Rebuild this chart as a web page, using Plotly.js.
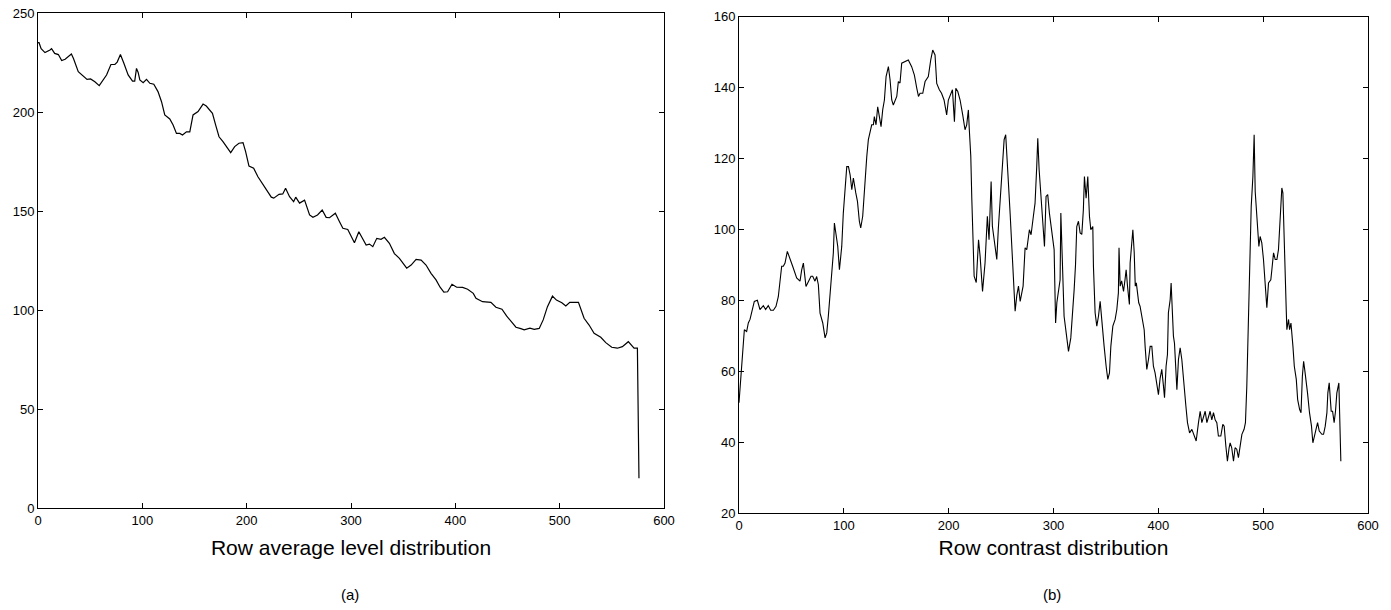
<!DOCTYPE html>
<html>
<head>
<meta charset="utf-8">
<script src="https://cdn.plot.ly/plotly-3.0.1.min.js"></script>
<style>html,body{margin:0;padding:0;background:#fff;}#chart{width:1391px;height:610px;}</style>
</head>
<body>
<div id="chart"></div>
<script>
// Row average level distribution (a)
var avgRow = [0,1,3,6.7,11.5,13,16,19.5,22.7,26,32,34,38.6,43.4,47,50.4,54.5,58.7,62.5,65.7,69.9,73.7,75.9,79,82.3,86.4,90.6,92.7,94.4,96,97.6,100.8,104,107.2,111,115,118.4,121.5,126.3,129.5,132.7,135.9,138.5,142.3,145.5,148.6,153.4,158.2,161.3,167.2,170.3,173.5,177.3,180.5,184.7,188.5,192.6,196.5,199,202.2,206.7,210.8,215,218.8,223.6,226,231,234.6,237.3,241.1,245,247,250.7,255.5,260.3,263.5,267.9,272.4,276.2,279.4,285,289,292.2,296.9,303.3,307.5,311.3,314.5,317.7,320.9,324.7,328.8,332,336.8,341.6,346.4,353.4,357.6,362.4,367.2,371.9,376.7,381.5,385.4,389,392.6,396.8,401.3,407,411.8,417.2,419.8,426.1,434.1,438.9,444.7,449.1,453.3,458.1,462.8,466,471.5,475.6,480.4,484.2,488.3,493.1,496.9,502.1,505.9,509.7,518,523.4,528.2,533,539.4,544.2,549.9,555.3,560.1,565.8,571.3,574.5,576];
var avgLevel = [235,235,232,230,231.3,232,229.6,229,226,226.6,229.3,227,220.4,218,216.5,216.7,215.3,213.3,216.2,218.7,224,224,225.2,229,224.6,218.7,215.6,215.6,222,220,216.2,214.8,216.5,214.5,214,210.3,205.2,198.5,196.5,193.4,189.2,189.2,188.4,190,190,198.5,200.2,204,203,199.3,193.4,187.5,185,182.5,179.5,182.5,184.2,184.5,180,172.7,171.6,167.3,164,160.6,157,156.5,158.4,158.6,161.5,157.2,154.7,157,154,155.5,148,146.8,148,150.5,146.8,146.6,148.9,144.6,141.3,140.7,134,139.5,136.2,132.8,133.3,132,136.2,135.7,136.7,133.7,128.5,126.1,121.1,122.7,125.6,125.2,122.7,118.5,115.2,111.5,109,109.2,113,111.5,111.4,110.5,108.4,105.9,104.2,103.9,101.4,100.4,97,94.1,91.3,90.6,90,90.8,90.2,90.7,95,101.7,107,105,103.7,102,103.9,103.9,95.8,92.4,88.2,86.2,83.5,81.2,80.7,81.5,84,80.7,80.7,15];

// Row contrast distribution (b)
var conRow = [0,1.6,2.5,3.5,5.1,7.3,8.9,10.5,12.1,14.6,17.5,20,23.2,25.4,27.9,30.2,32.8,35.3,37.5,40.7,42.3,43.9,46.1,48.7,51.2,55,58.2,59.8,61.4,63.9,66.1,68.7,70.3,72.5,74.1,75.7,77.3,79.9,82.1,83.7,85.2,86.8,88.4,90,91,92.6,94.2,95.8,98,99.5,101.2,102.8,104.4,106,107.6,109.1,111.4,113,114.8,116.1,118,119.3,120.9,121.9,123.4,125,126.6,128.2,129.1,130.7,132.3,133.9,135.5,137.1,138.7,140.3,142.5,144.1,145.7,147.2,150.5,152,153.6,155.2,158.4,161.5,164.7,167.3,169.6,171.2,172.7,175.3,177.5,180.6,182.9,184.8,187,188.6,191.1,193.2,195.6,198.1,199.7,202,203.6,205.5,206.8,208.7,210.9,213.4,215.6,217.2,218.8,219.7,221.1,222.1,223.1,224.3,226.3,227.5,228.5,230,231.6,232.3,234.7,236.9,238.5,240.5,241.7,243.3,245.9,247.4,249,250.7,252.9,254.4,255.4,257,258.6,260.2,261.7,262.5,263.4,265,266.6,268.2,269.8,271,272.9,274.5,277,278.6,280.8,282.4,284,285,286.3,287.9,289.8,291.4,292.9,294.5,296.1,298.4,300.6,301.5,302,303.2,304.7,306.3,307,308.9,310.1,312.7,314.3,316.5,318.4,319.7,321,322.2,323.8,325.4,327,328.5,329.5,331.1,332.7,334.3,335.6,337.5,338.1,339.1,339.7,341.3,342.9,344.5,346.1,348.3,350.2,351.8,353.4,354.7,356.6,358.8,360.4,361.9,362.5,363.6,365,366.8,368.3,369.3,370.6,372.4,373.1,374.7,375.7,377,378,379,381.3,382.6,384.4,385.8,386.5,387.4,389,390.6,392.2,393.8,395.3,396.9,399.2,400.1,401.7,403.3,404.9,405.9,407.4,408.7,409.6,411.3,412.2,413.5,414.4,415.4,416.7,417.7,419.2,420.8,422.4,424,426.3,427.8,429.8,432,433.6,436.1,438.3,439.9,441.5,443.1,444.7,446.3,447.9,449.4,451,452.6,454.2,455.8,457.3,459.6,461.5,462.8,464.4,465.9,467.5,468.5,470,471.7,473.2,474.8,476.4,478.1,479.7,481.8,483.1,484.4,485.4,486,486.9,487.6,488.6,490.2,491.4,492.4,493.3,494.6,495.9,497.1,498.7,500.3,501.9,503.5,505.1,507.3,508.3,509.9,511.5,513.1,514.6,516.2,517.8,518.8,520,521.3,522,522.6,524.2,525.2,526.5,528.4,529.7,531.6,532.9,534.8,536.1,537.4,538.6,539.6,540.9,542.3,544.2,546.1,547.4,548.7,550.3,551.9,553.5,556,557.6,559.2,560.8,561.7,563,564,564.9,566.2,567.7,569,570.3,572.2,572.8,573.5,574.1];
var contrast = [51.1,57.7,60.5,64.2,71.7,71.2,73.6,74.6,76.9,79.7,80,77.4,78.5,77.4,78.5,77.2,77.2,78.3,81,89.6,89.6,90.5,93.8,91.9,89.6,86.3,85.4,88.6,90.5,83.9,85.4,86.8,86.8,85.4,86.7,84.4,76.4,73.6,69.4,70.8,75.5,82.1,86.8,93.4,101.8,99,95.2,88.6,95.2,104.6,111.2,117.7,117.7,115.4,111.2,114.5,110.3,107.9,102.3,100.4,103.7,110.3,117.7,120.6,125.3,127.2,129.5,129.5,131.8,129.5,134.6,131.8,129,133.8,136.5,143.1,145.9,142.2,136.5,135.1,137.5,141.7,141.3,146.9,147.3,147.8,145.9,143.5,139.8,137.5,138.4,138.4,141.7,143.1,147.8,150.6,149.2,141.2,139.4,138.4,136.5,132.3,136.5,138.4,139.4,130.4,139.8,138.9,136.5,132.3,128.1,129.5,133.7,128.1,120.6,108.4,94.3,86.8,85,92,97.1,92.4,82.5,82.5,90.5,103.7,97.1,113.5,100.9,97.1,91.5,100.4,107.4,114.9,125.3,126.7,119.6,113.1,104.6,94.3,84.9,81.1,76.9,81.4,84,79.7,82.1,84,94.8,94.3,99.9,98.5,103.7,107.4,117.7,125.7,116.8,109.3,100.8,95.2,109.3,109.8,104.6,99.9,94.3,81,73.6,79.3,83,85.8,104.6,85.8,75.5,69.4,65.6,69.4,76.5,83,90,100.8,102.3,99,98.6,105.6,114.9,108.8,114.9,103.7,99.9,100.8,89.6,81.1,76.5,72.7,75.5,79.7,73.6,67,61.4,57.7,59.5,67,72.7,74.6,77.4,82.1,94.8,84,85.5,82.5,86,88.6,84,78.8,90.5,95.2,99.9,93.4,84,84.9,79.3,78.3,75.5,73.6,71.7,67,60.5,63.3,67,67,61.4,59.5,55.8,53.4,58,60.5,55.8,52.5,61.4,64.7,76.5,80.2,84.9,74.6,69.9,67.9,61.4,54.8,63.3,66.6,63.3,56.7,50.1,45.5,42.6,43.6,42.2,40.3,45.5,48.7,45.5,47.3,48.7,45.5,46.9,48.7,46.3,48.3,46.3,45.5,41.7,41.7,45,44.5,38.9,34.6,38.4,39.8,38.4,34.6,38.4,38,35.6,38.9,42.2,43.6,45.5,55.8,67,76.5,85.8,95.2,106.5,114.9,126.7,110.7,106.5,99.9,95.2,98,96.2,91.5,84.9,77.9,84.9,85.8,88.6,93.4,91.5,91.5,94.3,102.7,111.7,110.3,95.2,87.7,77.4,71.7,74.6,71.7,73.6,67,61.4,57.7,52,49.2,48.3,58.6,62.8,60.5,57.7,53.9,48.3,44.5,39.8,41.7,43.1,45.5,43.1,42.2,42.2,44.5,48.3,53.9,56.7,53,48.7,48.7,45.5,48.7,53.9,56.7,47.3,40.8,34.6];

var xTicks = [0,100,200,300,400,500,600];
var yTicksA = [0,50,100,150,200,250];
var yTicksB = [20,40,60,80,100,120,140,160];
var xTitleA = 'Row average level distribution';
var xTitleB = 'Row contrast distribution';
var panelLabels = ['(a)', '(b)'];

var font = {family: '"Liberation Sans", Arial, Helvetica, sans-serif', color: '#000', size: 13};

var traces = [
  {x: avgRow, y: avgLevel, type: 'scatter', mode: 'lines', line: {color: '#000', width: 1.2}, xaxis: 'x', yaxis: 'y', hoverinfo: 'skip'},
  {x: conRow, y: contrast, type: 'scatter', mode: 'lines', line: {color: '#000', width: 1.1}, xaxis: 'x2', yaxis: 'y2', hoverinfo: 'skip'}
];

function ax(extra) {
  var base = {
    showline: true, linecolor: '#000', linewidth: 1, mirror: 'ticks',
    ticks: 'inside', ticklen: 5, tickwidth: 1, tickcolor: '#000',
    showgrid: false, zeroline: false, tickfont: font, fixedrange: true
  };
  for (var k in extra) base[k] = extra[k];
  return base;
}

var layout = {
  width: 1391, height: 610,
  margin: {l: 0, r: 0, t: 0, b: 0},
  paper_bgcolor: '#fff', plot_bgcolor: '#fff',
  showlegend: false,
  font: font,
  xaxis: ax({domain: [38/1391, 664/1391], range: [0, 600], tickvals: xTicks, anchor: 'y',
    title: {text: xTitleA, font: {family: font.family, size: 21, color: '#000'}, standoff: 13}}),
  yaxis: ax({domain: [(610-508)/610, (610-13)/610], range: [0, 250], tickvals: yTicksA, anchor: 'x'}),
  xaxis2: ax({domain: [739/1391, 1368/1391], range: [0, 600], tickvals: xTicks, anchor: 'y2',
    title: {text: xTitleB, font: {family: font.family, size: 21, color: '#000'}, standoff: 8}}),
  yaxis2: ax({domain: [(610-513)/610, (610-16.7)/610], range: [20, 160], tickvals: yTicksB, anchor: 'x2'}),
  annotations: [
    {text: panelLabels[0], xref: 'paper', yref: 'paper', x: 350/1391, y: (610-594)/610, xanchor: 'center', yanchor: 'middle', showarrow: false, font: {family: font.family, size: 15, color: '#000'}},
    {text: panelLabels[1], xref: 'paper', yref: 'paper', x: 1052/1391, y: (610-594)/610, xanchor: 'center', yanchor: 'middle', showarrow: false, font: {family: font.family, size: 15, color: '#000'}}
  ]
};

Plotly.newPlot('chart', traces, layout, {displayModeBar: false, staticPlot: true});
</script>
</body>
</html>
